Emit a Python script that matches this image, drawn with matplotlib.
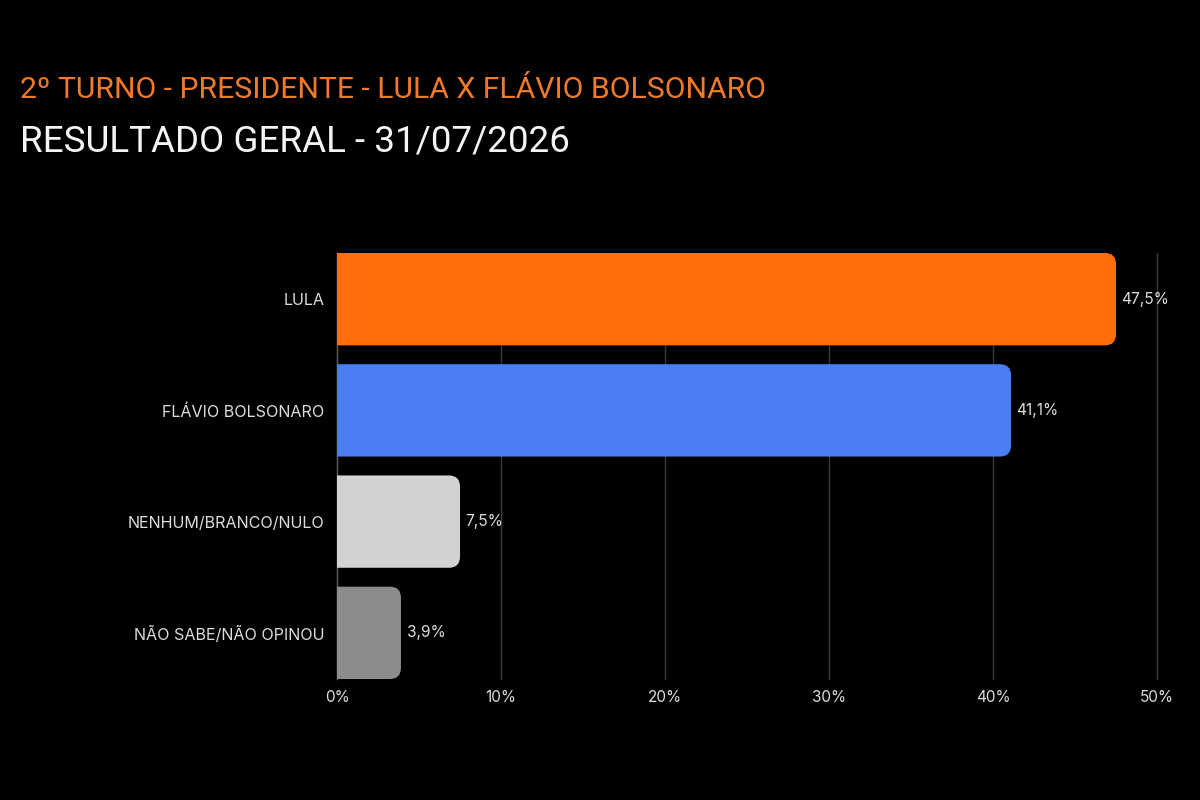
import matplotlib
matplotlib.use("Agg")
import matplotlib.pyplot as plt
from matplotlib.path import Path
from matplotlib.patches import PathPatch

categories = ["LULA", "FLÁVIO BOLSONARO", "NENHUM/BRANCO/NULO", "NÃO SABE/NÃO OPINOU"]
values = [47.5, 41.1, 7.5, 3.9]
value_labels = ["47,5%", "41,1%", "7,5%", "3,9%"]
colors = ["#ff6e0a", "#4a7ef2", "#d2d2d2", "#8c8c8c"]
xticks = [0, 10, 20, 30, 40, 50]
xtick_labels = ["0%", "10%", "20%", "30%", "40%", "50%"]
title1 = "2º TURNO - PRESIDENTE - LULA X FLÁVIO BOLSONARO"
title2 = "RESULTADO GERAL - 31/07/2026"

fig = plt.figure(figsize=(12, 8), dpi=100, facecolor="black")
ax = fig.add_axes([337/1200, 1-679/800, 820/1200, 426/800])
ax.set_facecolor("black")

bar_h = 0.83
ax.set_xlim(0, 50)
ax.set_ylim(len(categories) - 1 + bar_h/2, -bar_h/2)

bars = ax.barh(range(len(categories)), values, height=bar_h, color=colors)

# replace rectangles with right-rounded shapes
fig.canvas.draw()
px_per_x = ax.transData.transform((1, 0))[0] - ax.transData.transform((0, 0))[0]
px_per_y = abs(ax.transData.transform((0, 1))[1] - ax.transData.transform((0, 0))[1])
r_px = 11
rx = r_px / px_per_x
ry = r_px / px_per_y
for b, c in zip(bars, colors):
    x0, y0 = b.get_x(), b.get_y()
    w, h = b.get_width(), b.get_height()
    x1, y1 = x0 + w, y0 + h
    verts = [
        (x0, y0), (x1 - rx, y0), (x1, y0), (x1, y0 + ry),
        (x1, y1 - ry), (x1, y1), (x1 - rx, y1), (x0, y1), (x0, y0)
    ]
    codes = [Path.MOVETO, Path.LINETO, Path.CURVE3, Path.CURVE3,
             Path.LINETO, Path.CURVE3, Path.CURVE3, Path.LINETO, Path.CLOSEPOLY]
    ax.add_patch(PathPatch(Path(verts, codes), facecolor=c, edgecolor="none", zorder=3))
    b.set_visible(False)

for i, (v, lab) in enumerate(zip(values, value_labels)):
    ax.annotate(lab, (v, i), xytext=(4, 0), textcoords="offset points",
                va="center", ha="left", color="#dcdcdc", fontsize=11.2, family="Inter")

ax.set_yticks(range(len(categories)))
ax.set_yticklabels(categories, color="#dcdcdc", fontsize=11.6, family="Inter")
ax.set_xticks(xticks)
ax.set_xticklabels(xtick_labels, color="#dcdcdc", fontsize=11, family="Inter")
ax.tick_params(axis="both", length=0)
ax.tick_params(axis="y", pad=9)
ax.tick_params(axis="x", pad=8)
for s in ["top", "right", "bottom"]:
    ax.spines[s].set_visible(False)
ax.spines["left"].set_color("#555555")
ax.spines["left"].set_linewidth(1)
ax.grid(axis="x", color="#3a3a3a", linewidth=1, zorder=0)
for gl in ax.get_xgridlines():
    gl.set_clip_on(False)
ax.set_axisbelow(True)

fig.text(20/1200, 1-98/800, title1, color="#f07a2a", fontsize=21.7, family="Roboto", va="baseline")
fig.text(20/1200, 1-152/800, title2, color="#f4f4f4", fontsize=26.5, family="Roboto", va="baseline")

fig.savefig("out.png", dpi=100, facecolor="black")
